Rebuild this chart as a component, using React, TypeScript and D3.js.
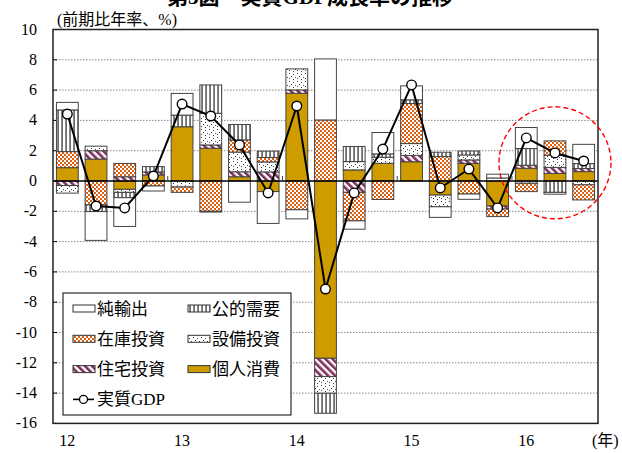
import React from "react";
import * as d3 from "d3";

const quarters = ["12Q1","12Q2","12Q3","12Q4","13Q1","13Q2","13Q3","13Q4","14Q1","14Q2","14Q3","14Q4","15Q1","15Q2","15Q3","15Q4","16Q1","16Q2","16Q3"];
const yearLabels = ["12","13","14","15","16"];
const yearStartQuarters = ["12Q1","13Q1","14Q1","15Q1","16Q1"];

const consumption = [0.88,1.45,-0.55,0.4,3.58,2.16,0.28,-0.7,5.79,-11.7,0.73,1.17,1.27,-0.93,1.17,-1.65,0.84,0.5,0.62];
const housing     = [-0.3,0.55,0.28,0.2,0,0.22,0.33,0.6,0.22,-1.21,-0.75,0,0.42,0,0.22,-0.2,0.2,0.4,0.2];
const capex       = [-0.5,0.3,-0.2,0,-0.4,2.09,1.3,0.66,1.39,-1.1,0.55,0.4,0.78,-0.77,0.33,0.2,-0.15,0.8,-0.25];
const inventory   = [1.06,-1.58,0.88,-0.33,-0.35,-2.0,0.8,0.29,-1.9,4.03,-1.88,-1.22,2.64,1.61,-0.86,-0.5,-0.55,0.95,-1.0];
const publicDem   = [2.75,-0.44,-0.35,0.35,0.77,1.87,1.02,0.42,0,-1.32,1.0,0.22,0.25,0.29,0.26,0,1.1,-0.75,0.33];
const netExports  = [0.5,-1.9,-1.9,-0.33,1.43,-0.05,-1.4,-2.1,-0.6,4.03,-0.55,1.41,0.92,-0.7,-0.35,0.25,1.39,-0.12,1.27];
const realGDP     = [4.42,-1.65,-1.78,0.33,5.08,4.29,2.38,-0.79,4.95,-7.13,-0.79,2.11,6.34,-0.46,0.79,-1.78,2.84,1.85,1.32];

const yTicks = [10,8,6,4,2,0,-2,-4,-6,-8,-10,-12,-14,-16];
const seriesKeys = ["consumption","housing","capex","inventory","publicDem","netExports"];
const seriesNames: Record<string,string> = {
  netExports: "純輸出", publicDem: "公的需要", inventory: "在庫投資",
  capex: "設備投資", housing: "住宅投資", consumption: "個人消費",
};
const fills: Record<string,string> = {
  consumption: "#CF9C00", housing: "url(#pHouse)", capex: "url(#pCap)",
  inventory: "url(#pInv)", publicDem: "url(#pPub)", netExports: "#ffffff",
};
const legendOrder = [["netExports","publicDem"],["inventory","capex"],["housing","consumption"]];

const W = 622, H = 453;
const left = 53, right = 598, top = 29.5, bottom = 423.4;
const FONT = "'Liberation Serif','Noto Sans CJK JP',serif";

export default function App() {
  const rows = quarters.map((q, i) => ({
    q,
    consumption: consumption[i], housing: housing[i], capex: capex[i],
    inventory: inventory[i], publicDem: publicDem[i], netExports: netExports[i],
  }));
  const x = d3.scaleBand<string>().domain(quarters).range([left, right]).paddingInner(0.24).paddingOuter(0.12);
  const y = d3.scaleLinear().domain([-16, 10]).range([bottom, top]);
  const stack = d3.stack<any>().keys(seriesKeys).offset(d3.stackOffsetDiverging);
  const layers = stack(rows);
  const line = d3.line<number>().x((_, i) => (x(quarters[i]) as number) + x.bandwidth() / 2).y(d => y(d));
  const step = x.step();

  const ci = quarters.indexOf("16Q2");
  const circX = (x(quarters[ci]) as number) + x.bandwidth() / 2;
  const circY = y(1.2);

  return (
    <svg width={W} height={H} style={{ position: "absolute", left: 0, top: 0, background: "#fff" }} fontFamily={FONT}>
      <defs>
        <pattern id="pPub" width="4" height="10" patternUnits="userSpaceOnUse">
          <rect width="4" height="10" fill="#fff" />
          <rect x="1.5" width="1.1" height="10" fill="#111" />
        </pattern>
        <pattern id="pInv" width="4" height="4" patternUnits="userSpaceOnUse">
          <rect width="4" height="4" fill="#DD5F10" />
          <rect width="2" height="2" fill="#fff" />
          <rect x="2" y="2" width="2" height="2" fill="#fff" />
        </pattern>
        <pattern id="pCap" width="8" height="8" patternUnits="userSpaceOnUse">
          <rect width="8" height="8" fill="#fff" />
          <rect x="1" y="1" width="1" height="1" fill="#333" />
          <rect x="5" y="2" width="1" height="1" fill="#444" />
          <rect x="3" y="4" width="1" height="1" fill="#333" />
          <rect x="7" y="5" width="1" height="1" fill="#444" />
          <rect x="1" y="6" width="1" height="1" fill="#444" />
          <rect x="5" y="7" width="1" height="1" fill="#333" />
        </pattern>
        <pattern id="pHouse" width="5" height="5" patternUnits="userSpaceOnUse" patternTransform="rotate(-45)">
          <rect width="5" height="5" fill="#fff" />
          <rect width="2.6" height="5" fill="#7B2D5C" />
        </pattern>
      </defs>

      {/* title (clipped at top, as in the reference) */}
      <text x={310} y={4} textAnchor="middle" fontSize={21} fontWeight="bold">第3図　実質GDP成長率の推移</text>

      {/* unit label */}
      <text x={57} y={25} fontSize={16}>(前期比年率、%)</text>

      {/* gridlines */}
      {yTicks.filter(t => t !== 0 && t !== 10 && t !== -16).map(t => (
        <line key={"g" + t} x1={left} x2={right} y1={y(t)} y2={y(t)} stroke="#888" strokeWidth={1} strokeDasharray="1.5,1.5" />
      ))}

      {/* y tick labels and ticks */}
      {yTicks.map(t => (
        <g key={"t" + t}>
          <text x={37} y={y(t) + 5} textAnchor="end" fontSize={16}>{t}</text>
          <line x1={left} x2={left + 4} y1={y(t)} y2={y(t)} stroke="#000" />
        </g>
      ))}

      {/* bars */}
      {layers.map(layer => (
        <g key={layer.key}>
          {layer.map((d, i) => {
            const h = Math.abs(y(d[0]) - y(d[1]));
            if (h < 0.01) return null;
            return (
              <rect key={i} x={x(quarters[i])} width={x.bandwidth()} y={Math.min(y(d[0]), y(d[1]))} height={h}
                fill={fills[layer.key]} stroke="#444" strokeWidth={1} />
            );
          })}
        </g>
      ))}

      {/* zero line */}
      <line x1={left} x2={right} y1={y(0)} y2={y(0)} stroke="#000" strokeWidth={1.3} />
      {yearStartQuarters.slice(1).map(q => (
        <line key={"yt" + q} x1={(x(q) as number) - (step - x.bandwidth()) / 2} x2={(x(q) as number) - (step - x.bandwidth()) / 2}
          y1={y(0)} y2={y(0) - 5} stroke="#444" strokeWidth={1} />
      ))}

      {/* GDP line */}
      <path d={line(realGDP) as string} fill="none" stroke="#000" strokeWidth={2} />
      {realGDP.map((v, i) => (
        <circle key={"c" + i} cx={(x(quarters[i]) as number) + x.bandwidth() / 2} cy={y(v)} r={4.8} fill="#fff" stroke="#000" strokeWidth={1.4} />
      ))}

      {/* plot border */}
      <rect x={left} y={top} width={right - left} height={bottom - top} fill="none" stroke="#222" strokeWidth={1.5} />

      {/* x labels */}
      {yearLabels.map((lab, i) => (
        <text key={"x" + lab} x={(x(yearStartQuarters[i]) as number) + x.bandwidth() / 2} y={446} textAnchor="middle" fontSize={16}>{lab}</text>
      ))}
      <text x={592} y={446} fontSize={16}>(年)</text>

      {/* red dashed circle annotation */}
      <ellipse cx={circX} cy={circY} rx={56} ry={56} fill="none" stroke="#FF0000" strokeWidth={1.4} strokeDasharray="5,3" />

      {/* legend */}
      <g>
        <rect x={63} y={293} width={228} height={122} fill="#fff" stroke="#000" strokeWidth={1} />
        {legendOrder.map((row, r) => row.map((k, c) => {
          const sx = c === 0 ? 73 : 188;
          const cy = 308.5 + r * 30.3;
          return (
            <g key={"l" + k}>
              <rect x={sx} y={cy - 3.5} width={22} height={7} fill={fills[k]} stroke="#333" strokeWidth={1} />
              <text x={sx + 24} y={cy + 6} fontSize={17}>{seriesNames[k]}</text>
            </g>
          );
        }))}
        <line x1={73} x2={94} y1={399.4} y2={399.4} stroke="#000" strokeWidth={1.6} />
        <circle cx={83.5} cy={399.4} r={4} fill="#fff" stroke="#000" strokeWidth={1.3} />
        <text x={97} y={405.4} fontSize={17}>実質GDP</text>
      </g>
    </svg>
  );
}
